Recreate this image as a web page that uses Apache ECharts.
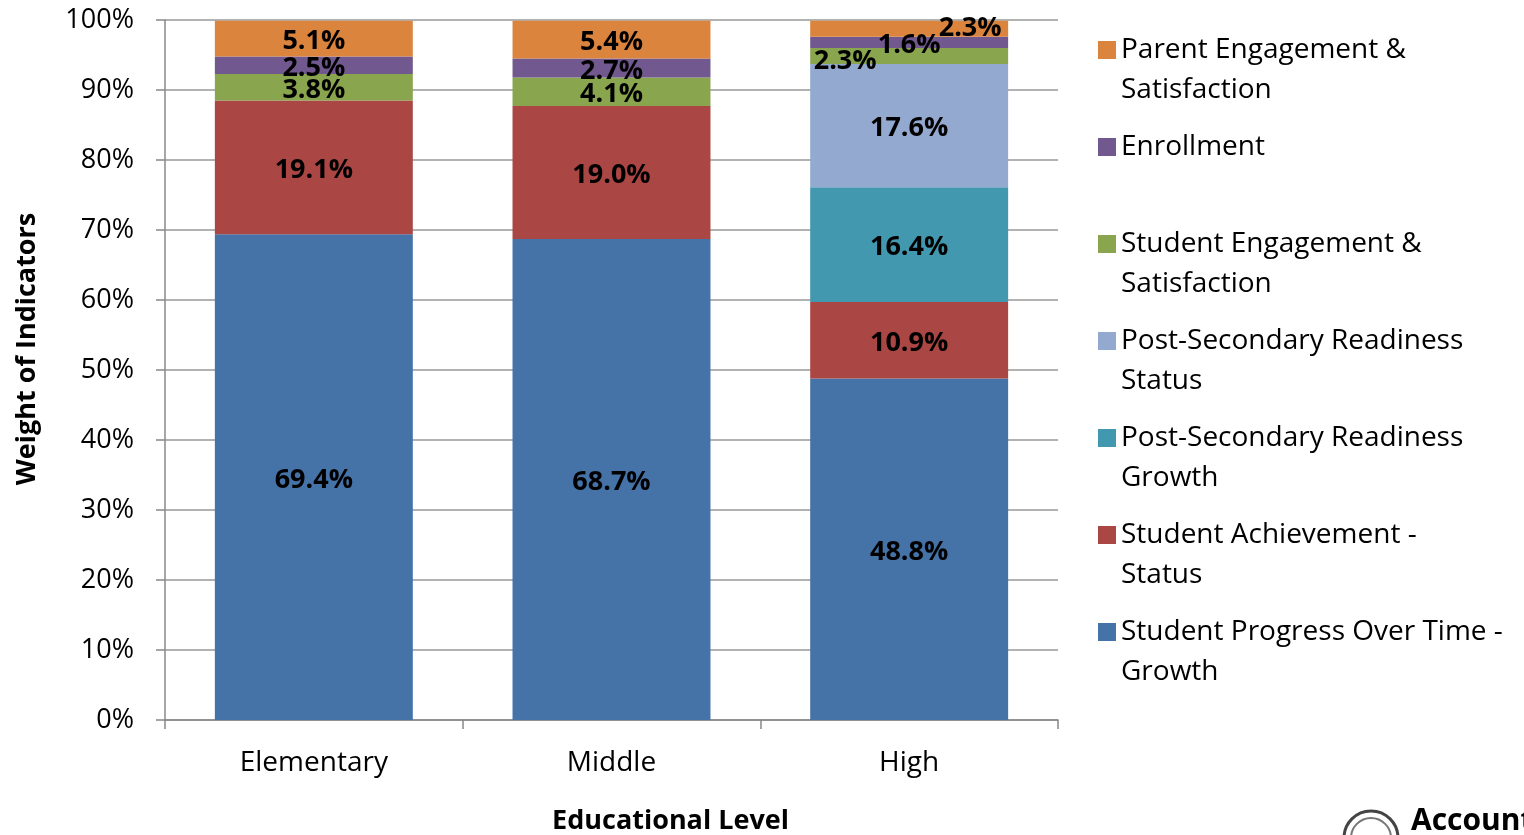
<!DOCTYPE html>
<html>
<head>
<meta charset="utf-8">
<script src="https://cdn.jsdelivr.net/npm/echarts@6/dist/echarts.min.js"></script>
<style>
  html, body { margin: 0; padding: 0; background: #fff; }
  #chart { width: 1524px; height: 835px; }
</style>
</head>
<body>
<div id="chart"></div>
<script>
const levels = ['Elementary', 'Middle', 'High'];
const progressGrowth = [69.4, 68.7, 48.8];
const achievementStatus = [19.1, 19.0, 10.9];
const psrGrowth = [0, 0, 16.4];
const psrStatus = [0, 0, 17.6];
const studentEngagement = [3.8, 4.1, 2.3];
const enrollment = [2.5, 2.7, 1.6];
const parentEngagement = [5.1, 5.4, 2.3];

const seriesNames = [
  'Student Progress Over Time - Growth',
  'Student Achievement - Status',
  'Post-Secondary Readiness Growth',
  'Post-Secondary Readiness Status',
  'Student Engagement & Satisfaction',
  'Enrollment',
  'Parent Engagement & Satisfaction'
];
const seriesValues = [progressGrowth, achievementStatus, psrGrowth, psrStatus,
  studentEngagement, enrollment, parentEngagement];
const colors = ['#4572a7', '#aa4643', '#4198af', '#93a9cf', '#89a54e', '#71588f', '#db843d'];

// legend text wraps like the original (leading blank line keeps the icon on the first line)
const legendText = {
  'Student Progress Over Time - Growth': '\nStudent Progress Over Time -\nGrowth',
  'Student Achievement - Status': '\nStudent Achievement -\nStatus',
  'Post-Secondary Readiness Growth': '\nPost-Secondary Readiness\nGrowth',
  'Post-Secondary Readiness Status': '\nPost-Secondary Readiness\nStatus',
  'Student Engagement & Satisfaction': '\nStudent Engagement &\nSatisfaction',
  'Enrollment': '\nEnrollment\n ',
  'Parent Engagement & Satisfaction': '\nParent Engagement &\nSatisfaction'
};

// small high-school segments get their labels pushed sideways
const labelShift = {
  '4-2': [-64, 5],
  '6-2': [61, 0]
};

const font = '"Open Sans", Lato, sans-serif';

let series = seriesNames.map(function (name, si) {
  return {
    name: name,
    type: 'bar',
    stack: 'total',
    barWidth: '66.5%',
    itemStyle: { color: colors[si] },
    label: {
      show: true,
      position: 'inside',
      offset: [0, 3],
      color: '#000',
      fontFamily: font,
      fontWeight: 'bold',
      fontSize: 27,
      formatter: function (p) {
        return p.value ? p.value.toFixed(1) + '%' : '';
      }
    },
    data: seriesValues[si].map(function (v, ci) {
      let shift = labelShift[si + '-' + ci];
      return shift ? { value: v, label: { offset: shift } } : v;
    })
  };
});

let option = {
  animation: false,
  color: colors,
  textStyle: { fontFamily: font },
  grid: { left: 165, right: 466, top: 20, bottom: 115, outerBoundsMode: 'none' },
  legend: {
    orient: 'vertical',
    left: 1098,
    top: -10,
    padding: 0,
    itemWidth: 18,
    itemHeight: 18,
    itemGap: -23,
    icon: 'rect',
    data: seriesNames.slice().reverse(),
    formatter: function (name) { return legendText[name]; },
    textStyle: {
      fontFamily: font,
      fontSize: 28,
      color: '#000',
      lineHeight: 40
    }
  },
  xAxis: {
    type: 'category',
    data: levels,
    name: 'Educational Level',
    nameLocation: 'middle',
    nameGap: 88,
    nameTextStyle: { fontFamily: font, fontSize: 27, fontWeight: 'bold', color: '#000', padding: [0, 0, 0, 118] },
    axisLine: { lineStyle: { color: '#888', width: 1.5 } },
    axisTick: { show: true, length: 9, lineStyle: { color: '#888', width: 1.5 } },
    axisLabel: { fontFamily: font, fontSize: 28, color: '#000', margin: 29 }
  },
  yAxis: {
    type: 'value',
    min: 0,
    max: 100,
    interval: 10,
    name: 'Weight of Indicators',
    nameLocation: 'middle',
    nameGap: 124,
    nameTextStyle: { fontFamily: font, fontSize: 27, fontWeight: 'bold', color: '#000', padding: [0, 0, 0, 42] },
    axisLine: { show: true, lineStyle: { color: '#888', width: 1.5 } },
    axisTick: { show: true, length: 9, lineStyle: { color: '#888', width: 1.5 } },
    axisLabel: { formatter: '{value}%', fontFamily: font, fontSize: 27, color: '#000', margin: 31 },
    splitLine: { lineStyle: { color: '#999', width: 1.5 } }
  },
  graphic: [
    {
      type: 'circle',
      shape: { cx: 1371, cy: 838, r: 27 },
      style: { fill: '#fff', stroke: '#444', lineWidth: 3 }
    },
    {
      type: 'circle',
      shape: { cx: 1371, cy: 838, r: 20 },
      style: { fill: 'none', stroke: '#777', lineWidth: 2 }
    },
    {
      type: 'text',
      left: 1411,
      top: 806,
      style: { text: 'Account', font: 'bold 30px ' + font, fill: '#000' }
    }
  ],
  series: series
};

let myChart = echarts.init(document.getElementById('chart'));
myChart.setOption(option);
</script>
</body>
</html>
